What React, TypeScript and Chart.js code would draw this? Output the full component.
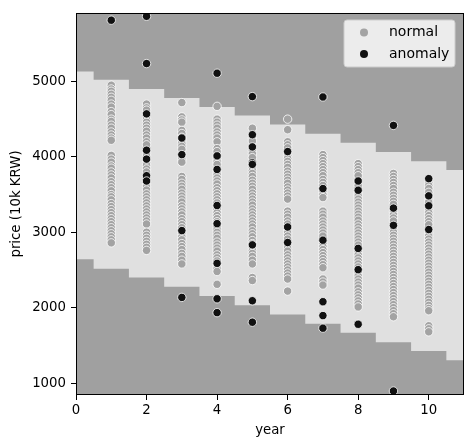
import React, { useEffect, useRef } from 'react';
import { Chart, registerables } from 'chart.js';

Chart.register(...registerables);

const years = [1, 2, 3, 4, 5, 6, 7, 8, 9, 10];

const normalPrices: number[][] = [
  [4950, 4900, 4870, 4830, 4790, 4750, 4700, 4660, 4600, 4560, 4500, 4470, 4420, 4380, 4330, 4290, 4250, 4220,
   4020, 3970, 3930, 3880, 3850, 3800, 3760, 3720, 3670, 3630, 3590, 3550, 3500, 3470, 3430, 3380, 3340, 3300,
   3260, 3220, 3180, 3140, 3100, 3060, 3020, 2980, 2940, 2900, 2860],
  [4700, 4650, 4620, 4500, 4460, 4420, 4380, 4340, 4290, 4250, 4200, 4160, 4050, 4010, 3930, 3890, 3840, 3800,
   3640, 3600, 3560, 3510, 3470, 3430, 3390, 3350, 3310, 3270, 3230, 3190, 3150, 3110, 3000, 2960, 2920, 2880,
   2840, 2800, 2760],
  [4720, 4530, 4490, 4460, 4350, 4310, 4260, 4220, 4180, 4140, 4100, 3970, 3930, 3740, 3700, 3650, 3610, 3570,
   3520, 3480, 3440, 3400, 3350, 3310, 3270, 3230, 3180, 3140, 3100, 3060, 2980, 2940, 2900, 2850, 2810, 2770,
   2720, 2680, 2630, 2580],
  [4670, 4500, 4460, 4420, 4380, 4330, 4290, 4250, 4200, 4110, 4070, 3980, 3940, 3900, 3800, 3760, 3720, 3680,
   3640, 3590, 3550, 3510, 3470, 3430, 3390, 3300, 3260, 3220, 3180, 3140, 3080, 3040, 3000, 2960, 2920, 2870,
   2830, 2790, 2750, 2700, 2660, 2620, 2560, 2520, 2480, 2310],
  [4380, 4250, 4210, 4080, 4040, 3990, 3860, 3820, 3780, 3740, 3690, 3650, 3610, 3570, 3520, 3480, 3440, 3400,
   3360, 3310, 3270, 3230, 3190, 3150, 3110, 3070, 3020, 2980, 2940, 2890, 2850, 2800, 2760, 2720, 2680, 2630,
   2580, 2400, 2360],
  [4500, 4360, 4200, 4160, 4120, 4020, 3980, 3940, 3900, 3860, 3810, 3770, 3730, 3690, 3650, 3600, 3560, 3520,
   3480, 3440, 3280, 3240, 3200, 3150, 3110, 3030, 2990, 2950, 2910, 2830, 2790, 2750, 2700, 2660, 2620, 2580,
   2540, 2500, 2460, 2420, 2380, 2220],
  [4030, 3990, 3950, 3910, 3870, 3830, 3790, 3750, 3700, 3660, 3620, 3540, 3500, 3460, 3280, 3240, 3200, 3150,
   3110, 3070, 3030, 2990, 2950, 2850, 2810, 2770, 2730, 2690, 2650, 2610, 2570, 2530, 2380, 2340, 2300],
  [3910, 3870, 3830, 3790, 3750, 3620, 3520, 3480, 3440, 3400, 3360, 3320, 3280, 3240, 3200, 3160, 3110, 3070,
   3030, 2990, 2950, 2910, 2870, 2830, 2740, 2700, 2660, 2620, 2580, 2540, 2460, 2420, 2380, 2340, 2300, 2260,
   2210, 2170, 2130, 2090, 2050, 2010],
  [3780, 3740, 3700, 3660, 3620, 3580, 3530, 3490, 3450, 3410, 3370, 3270, 3230, 3190, 3150, 3040, 3000, 2960,
   2920, 2880, 2840, 2800, 2760, 2720, 2680, 2640, 2600, 2560, 2520, 2480, 2440, 2400, 2360, 2320, 2280, 2240,
   2200, 2160, 2120, 2080, 2040, 2000, 1960, 1920, 1880],
  [3660, 3620, 3580, 3530, 3440, 3400, 3300, 3260, 3220, 3180, 3140, 3100, 2990, 2950, 2910, 2870, 2830, 2790,
   2750, 2710, 2670, 2630, 2590, 2550, 2510, 2470, 2430, 2390, 2350, 2310, 2270, 2230, 2190, 2150, 2110, 2070,
   2030, 1990, 1960, 1760, 1720, 1680],
];

const anomalyPrices: number[][] = [
  [5812],
  [5864, 5237, 4570, 4088, 3970, 3750, 3680],
  [4250, 4030, 3022, 2136],
  [5109, 4013, 3833, 3355, 3114, 2588, 2118, 1934],
  [4799, 4294, 4132, 3921, 3900, 2833, 2092, 1807],
  [4070, 3070, 2864],
  [4794, 3579, 2895, 2079, 1895, 1728],
  [3680, 3557, 2786, 2504, 1780],
  [4417, 3320, 3092, 895],
  [3711, 3483, 3351, 3036],
];

const boundaryYears = [0, 1, 2, 3, 4, 5, 6, 7, 8, 9, 10, 11];
const upperBoundary = [5132, 5022, 4899, 4780, 4662, 4549, 4430, 4307, 4188, 4066, 3943, 3825];
const lowerBoundary = [2641, 2517, 2399, 2276, 2154, 2033, 1908, 1786, 1667, 1543, 1425, 1303];

const xTicks = [0, 2, 4, 6, 8, 10];
const yTicks = [1000, 2000, 3000, 4000, 5000];
const xRange = [0, 11];
const yRange = [842, 5908];

const legendLabels = ['normal', 'anomaly'];

const COLORS = {
  outside: '#a0a0a0',
  inside: '#e0e0e0',
  normal: '#a3a3a3',
  anomaly: '#111111',
};

const FONT = 'DejaVu Sans';
const FS = 13.3;

function toPoints(prices: number[][]) {
  const pts: { x: number; y: number }[] = [];
  prices.forEach((list, i) => list.forEach((v) => pts.push({ x: years[i], y: v })));
  return pts;
}

const decorPlugin = {
  id: 'decor',
  beforeDraw(chart: any) {
    const { ctx, chartArea: a } = chart;
    ctx.save();
    ctx.fillStyle = COLORS.outside;
    ctx.fillRect(a.left, a.top, a.right - a.left, a.bottom - a.top);
    ctx.restore();
  },
  afterDraw(chart: any) {
    const { ctx, chartArea: a } = chart;
    ctx.save();
    ctx.strokeStyle = '#000';
    ctx.lineWidth = 1;
    ctx.strokeRect(Math.round(a.left) + 0.5, Math.round(a.top) + 0.5,
      Math.round(a.right) - Math.round(a.left) - 1, Math.round(a.bottom) - Math.round(a.top) - 1);

    // legend box
    const bx = a.right - 120, by = a.top + 7, bw = 111, bh = 47;
    const r = 3;
    ctx.beginPath();
    ctx.moveTo(bx + r, by);
    ctx.arcTo(bx + bw, by, bx + bw, by + bh, r);
    ctx.arcTo(bx + bw, by + bh, bx, by + bh, r);
    ctx.arcTo(bx, by + bh, bx, by, r);
    ctx.arcTo(bx, by, bx + bw, by, r);
    ctx.closePath();
    ctx.fillStyle = 'rgba(255,255,255,0.8)';
    ctx.fill();
    ctx.strokeStyle = '#cccccc';
    ctx.lineWidth = 1;
    ctx.stroke();

    const colors = [COLORS.normal, COLORS.anomaly];
    legendLabels.forEach((label, i) => {
      const cy = by + 12.5 + i * 21.4;
      ctx.beginPath();
      ctx.arc(bx + 20, cy, 4, 0, Math.PI * 2);
      ctx.fillStyle = colors[i];
      ctx.fill();
      ctx.fillStyle = '#000';
      ctx.font = `14px "${FONT}"`;
      ctx.textBaseline = 'middle';
      ctx.textAlign = 'left';
      ctx.fillText(label, bx + 45, cy);
    });
    ctx.restore();
  },
};

export default function App() {
  const ref = useRef<HTMLCanvasElement | null>(null);

  useEffect(() => {
    if (!ref.current) return;
    const chart = new Chart(ref.current, {
      type: 'scatter',
      data: {
        datasets: [
          {
            label: legendLabels[1],
            data: toPoints(anomalyPrices),
            backgroundColor: COLORS.anomaly,
            borderColor: '#ffffff',
            borderWidth: 0.8,
            pointRadius: 4.2,
            order: 0,
          } as any,
          {
            label: legendLabels[0],
            data: toPoints(normalPrices),
            backgroundColor: COLORS.normal,
            borderColor: '#ffffff',
            borderWidth: 0.8,
            pointRadius: 4.2,
            order: 1,
          } as any,
          {
            type: 'line',
            label: 'upper',
            data: boundaryYears.map((x, i) => ({ x, y: upperBoundary[i] })),
            stepped: 'middle',
            borderWidth: 0,
            borderColor: 'rgba(0,0,0,0)',
            pointRadius: 0,
            fill: '+1',
            backgroundColor: COLORS.inside,
            order: 2,
          } as any,
          {
            type: 'line',
            label: 'lower',
            data: boundaryYears.map((x, i) => ({ x, y: lowerBoundary[i] })),
            stepped: 'middle',
            borderWidth: 0,
            borderColor: 'rgba(0,0,0,0)',
            pointRadius: 0,
            fill: false,
            order: 3,
          } as any,
        ],
      },
      options: {
        responsive: false,
        animation: false,
        events: [],
        layout: { padding: { top: 10, right: 9, left: 0, bottom: 0 } },
        plugins: {
          legend: { display: false },
          tooltip: { enabled: false },
        },
        scales: {
          x: {
            type: 'linear',
            min: xRange[0],
            max: xRange[1],
            afterBuildTicks: (s: any) => { s.ticks = xTicks.map((v) => ({ value: v })); },
            afterFit: (s: any) => { s.height = 53; },
            grid: { drawOnChartArea: false, drawTicks: true, tickLength: 5, color: '#000' },
            border: { display: false },
            ticks: {
              color: '#000',
              padding: 3,
              font: { family: FONT, size: FS },
              callback: (v: any) => String(v),
              maxRotation: 0,
            },
            title: {
              display: true,
              text: 'year',
              color: '#000',
              font: { family: FONT, size: FS },
              padding: { top: 0, bottom: 9 },
            },
          },
          y: {
            type: 'linear',
            min: yRange[0],
            max: yRange[1],
            afterBuildTicks: (s: any) => { s.ticks = yTicks.map((v) => ({ value: v })); },
            afterFit: (s: any) => { s.width = 76; },
            grid: { drawOnChartArea: false, drawTicks: true, tickLength: 5, color: '#000' },
            border: { display: false },
            ticks: {
              color: '#000',
              padding: 5,
              font: { family: FONT, size: FS },
              callback: (v: any) => String(v),
            },
            title: {
              display: true,
              text: 'price (10k KRW)',
              color: '#000',
              font: { family: FONT, size: FS },
              padding: { top: 9, bottom: 0 },
            },
          },
        },
      } as any,
      plugins: [decorPlugin],
    });
    return () => chart.destroy();
  }, []);

  return (
    <div style={{ position: 'fixed', left: 0, top: 0, width: 473, height: 448, background: '#fff' }}>
      <canvas ref={ref} width={473} height={448} />
    </div>
  );
}
